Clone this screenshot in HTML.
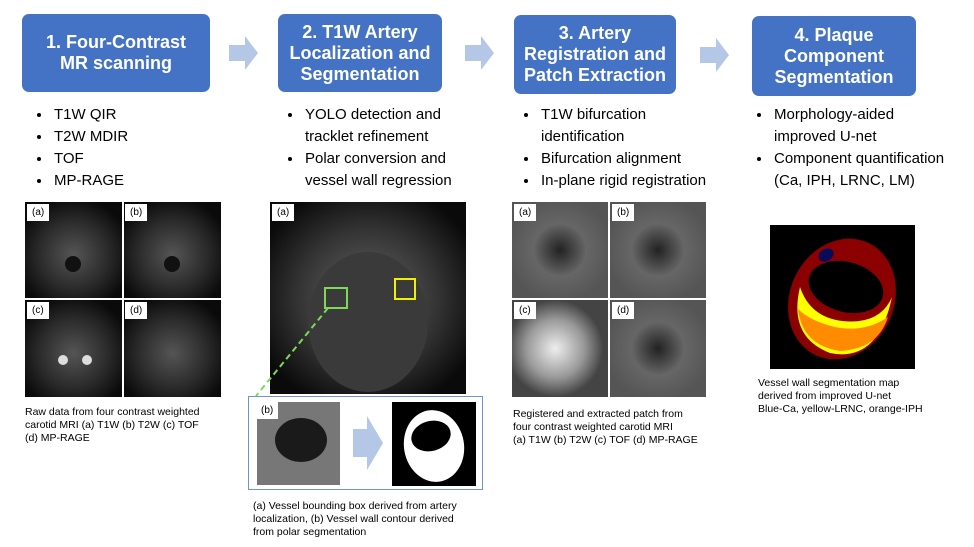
<!DOCTYPE html>
<html><head><meta charset="utf-8"><style>
body{margin:0;width:974px;height:547px;background:#fff;position:relative;overflow:hidden;font-family:"Liberation Sans",sans-serif;}
.box{position:absolute;background:#4472C4;color:#fff;border-radius:7px;font-weight:bold;font-size:18px;line-height:21px;text-align:center;display:flex;align-items:center;justify-content:center;}
.arr{position:absolute;}
ul{position:absolute;margin:0;padding:0 0 0 20px;font-size:15px;line-height:22px;color:#000;white-space:nowrap}
li{padding-left:2px}
.cap{position:absolute;font-size:10.5px;line-height:13px;color:#000;white-space:nowrap}
.lab{position:absolute;background:#fff;font-size:10px;padding:3px 5px;}
.img{position:absolute;overflow:hidden;}
</style></head><body>
<div class="box" style="left:22px;top:14px;width:188px;height:78px">1. Four-Contrast<br>MR scanning</div>
<div class="box" style="left:278px;top:14px;width:164px;height:78px">2. T1W Artery<br>Localization and<br>Segmentation</div>
<div class="box" style="left:514px;top:15px;width:162px;height:79px">3. Artery<br>Registration and<br>Patch Extraction</div>
<div class="box" style="left:752px;top:16px;width:164px;height:80px">4. Plaque<br>Component<br>Segmentation</div>
<svg class="arr" style="left:229px;top:36px" width="30" height="34"><polygon points="0,9 16,9 16,0 29,17 16,34 16,25 0,25" fill="#B4C7E7"/></svg>
<svg class="arr" style="left:465px;top:36px" width="30" height="34"><polygon points="0,9 16,9 16,0 29,17 16,34 16,25 0,25" fill="#B4C7E7"/></svg>
<svg class="arr" style="left:700px;top:38px" width="30" height="34"><polygon points="0,9 16,9 16,0 29,17 16,34 16,25 0,25" fill="#B4C7E7"/></svg>

<ul style="left:32px;top:104px"><li>T1W QIR</li><li>T2W MDIR</li><li>TOF</li><li>MP-RAGE</li></ul>
<ul style="left:283px;top:104px"><li>YOLO detection and<br>tracklet refinement</li><li>Polar conversion and<br>vessel wall regression</li></ul>
<ul style="left:519px;top:104px"><li>T1W bifurcation<br>identification</li><li>Bifurcation alignment</li><li>In-plane rigid registration</li></ul>
<ul style="left:752px;top:104px"><li>Morphology-aided<br>improved U-net</li><li>Component quantification<br>(Ca, IPH, LRNC, LM)</li></ul>

<!-- panel 1 -->
<svg class="img" style="left:25px;top:202px" width="196" height="195">
<defs><radialGradient id="g1" cx="50%" cy="55%" r="60%"><stop offset="0" stop-color="#555"/><stop offset=".6" stop-color="#2a2a2a"/><stop offset="1" stop-color="#0a0a0a"/></radialGradient></defs>
<rect x="0" y="0" width="97" height="96" fill="url(#g1)"/><rect x="99" y="0" width="97" height="96" fill="url(#g1)"/>
<rect x="0" y="98" width="97" height="97" fill="url(#g1)"/><rect x="99" y="98" width="97" height="97" fill="url(#g1)"/>
<circle cx="48" cy="62" r="8" fill="#111"/><circle cx="147" cy="62" r="8" fill="#111"/>
<circle cx="38" cy="158" r="5" fill="#ddd"/><circle cx="62" cy="158" r="5" fill="#ddd"/>
</svg>
<div class="lab" style="left:27px;top:204px">(a)</div><div class="lab" style="left:125px;top:204px">(b)</div>
<div class="lab" style="left:27px;top:302px">(c)</div><div class="lab" style="left:125px;top:302px">(d)</div>
<div class="cap" style="left:25px;top:406px">Raw data from four contrast weighted<br>carotid MRI (a) T1W (b) T2W (c) TOF<br>(d) MP-RAGE</div>

<!-- panel 2 -->
<svg class="img" style="left:270px;top:202px" width="196" height="192">
<defs><radialGradient id="g2" cx="50%" cy="50%" r="60%"><stop offset="0" stop-color="#666"/><stop offset=".6" stop-color="#333"/><stop offset="1" stop-color="#0a0a0a"/></radialGradient></defs>
<rect width="196" height="192" fill="url(#g2)"/>
<ellipse cx="98" cy="120" rx="60" ry="70" fill="#3a3a3a"/>
<rect x="55" y="86" width="22" height="20" fill="none" stroke="#7ed957" stroke-width="2"/>
<rect x="125" y="77" width="20" height="20" fill="none" stroke="#f0f000" stroke-width="2"/>
</svg>
<div class="lab" style="left:272px;top:204px">(a)</div>
<svg style="position:absolute;left:250px;top:300px" width="100" height="100"><line x1="78" y1="8" x2="6" y2="96" stroke="#7ed957" stroke-width="2" stroke-dasharray="6,4"/></svg>
<div style="position:absolute;left:248px;top:396px;width:233px;height:92px;border:1px solid #6f94d4;background:#fff"></div>
<svg class="img" style="left:257px;top:402px" width="130" height="84">
<rect x="0" y="0" width="83" height="83" fill="#777"/>
<ellipse cx="44" cy="38" rx="26" ry="22" fill="#1a1a1a"/>
<polygon points="96,27 110,27 110,14 126,41 110,68 110,55 96,55" fill="#B4C7E7"/>
</svg>
<svg class="img" style="left:392px;top:402px" width="84" height="84"><rect width="84" height="84" fill="#000"/>
<ellipse cx="42" cy="44" rx="30" ry="36" transform="rotate(-10 42 44)" fill="#fff"/><ellipse cx="39" cy="34" rx="20" ry="15" transform="rotate(-15 39 34)" fill="#000"/></svg>
<div class="lab" style="left:256px;top:402px">(b)</div>
<div class="cap" style="left:253px;top:500px">(a) Vessel bounding box derived from artery<br>localization, (b) Vessel wall contour derived<br>from polar segmentation</div>

<!-- panel 3 -->
<svg class="img" style="left:512px;top:202px" width="194" height="195">
<defs><radialGradient id="g3" cx="50%" cy="50%" r="55%"><stop offset="0" stop-color="#222"/><stop offset=".5" stop-color="#666"/><stop offset="1" stop-color="#555"/></radialGradient>
<radialGradient id="g4" cx="45%" cy="50%" r="50%"><stop offset="0" stop-color="#eee"/><stop offset=".6" stop-color="#999"/><stop offset="1" stop-color="#444"/></radialGradient></defs>
<rect x="0" y="0" width="96" height="96" fill="url(#g3)"/><rect x="98" y="0" width="96" height="96" fill="url(#g3)"/>
<rect x="0" y="98" width="96" height="97" fill="url(#g4)"/><rect x="98" y="98" width="96" height="97" fill="url(#g3)"/>
</svg>
<div class="lab" style="left:514px;top:204px">(a)</div><div class="lab" style="left:612px;top:204px">(b)</div>
<div class="lab" style="left:514px;top:302px">(c)</div><div class="lab" style="left:612px;top:302px">(d)</div>
<div class="cap" style="left:513px;top:408px">Registered and extracted patch from<br>four contrast weighted carotid MRI<br>(a) T1W (b) T2W (c) TOF (d) MP-RAGE</div>

<!-- panel 4 -->
<svg class="img" style="left:770px;top:225px" width="145" height="144"><rect width="145" height="144" fill="#000"/>
<ellipse cx="72" cy="74" rx="52" ry="62" transform="rotate(25 72 74)" fill="#8b0000"/>
<path d="M30,62 Q18,112 60,128 Q108,138 122,72 Q110,100 72,96 Q40,92 30,62 Z" fill="#ffff00"/>
<path d="M28,84 Q32,120 70,126 Q108,124 118,92 Q95,108 65,102 Q40,96 28,84 Z" fill="#ff8c00"/>
<ellipse cx="76" cy="62" rx="38" ry="25" transform="rotate(15 76 62)" fill="#000"/>
<ellipse cx="56" cy="30" rx="8" ry="6" transform="rotate(-30 56 30)" fill="#0a0a5a"/>
</svg>
<div class="cap" style="left:758px;top:377px">Vessel wall segmentation map<br>derived from improved U-net<br>Blue-Ca, yellow-LRNC, orange-IPH</div>
</body></html>
